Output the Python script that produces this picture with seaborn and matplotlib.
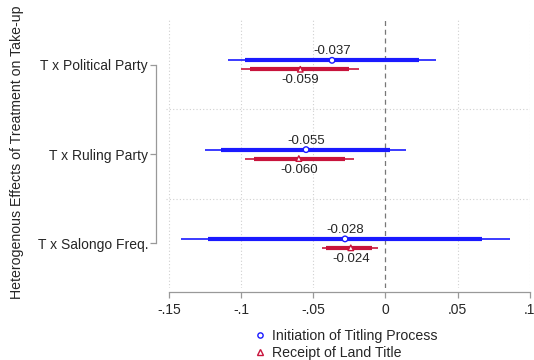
import matplotlib
matplotlib.use("Agg")
import matplotlib.pyplot as plt
from matplotlib.lines import Line2D
import seaborn as sns
import pandas as pd
import numpy as np

categories = ["T x Political Party", "T x Ruling Party", "T x Salongo Freq."]
series = ["Initiation of Titling Process", "Receipt of Land Title"]

init_coef = [-0.037, -0.055, -0.028]
init_lo95 = [-0.109, -0.125, -0.142]
init_hi95 = [0.035, 0.014, 0.086]
init_lo90 = [-0.097, -0.114, -0.123]
init_hi90 = [0.023, 0.003, 0.067]

title_coef = [-0.059, -0.060, -0.024]
title_lo95 = [-0.100, -0.097, -0.044]
title_hi95 = [-0.018, -0.022, -0.005]
title_lo90 = [-0.094, -0.091, -0.041]
title_hi90 = [-0.025, -0.028, -0.009]

xticks = [-0.15, -0.1, -0.05, 0, 0.05, 0.1]
xtick_labels = ["-.15", "-.1", "-.05", "0", ".05", ".1"]

sns.set_style("white")
plt.rcParams["font.family"] = ["Liberation Sans", "DejaVu Sans"]

blue = "#1a1aff"
red = "#c8143c"
colors = {series[0]: blue, series[1]: red}
markers = {series[0]: "o", series[1]: "^"}
offsets = {series[0]: -0.05, series[1]: 0.05}

rows = []
for i, c in enumerate(categories):
    rows.append(dict(cat=c, pos=i + 1, series=series[0], coef=init_coef[i],
                     lo95=init_lo95[i], hi95=init_hi95[i], lo90=init_lo90[i], hi90=init_hi90[i]))
    rows.append(dict(cat=c, pos=i + 1, series=series[1], coef=title_coef[i],
                     lo95=title_lo95[i], hi95=title_hi95[i], lo90=title_lo90[i], hi90=title_hi90[i]))
df = pd.DataFrame(rows)
df["y"] = df["pos"] + df["series"].map(offsets)

fig = plt.figure(figsize=(5.34, 3.6), dpi=100)
ax = fig.add_axes([0.311, 0.2, 0.681, 0.744])

# grid
for xt in xticks:
    if xt != 0:
        ax.axvline(xt, color="#d0d0d0", lw=0.8, ls=(0, (1, 2)), zorder=0)
for yy in [1.5, 2.5]:
    ax.axhline(yy, color="#d0d0d0", lw=0.8, ls=(0, (1, 2)), zorder=0)
ax.axvline(0, color="#777777", lw=0.9, ls=(0, (4, 3)), zorder=1)

for s in series:
    d = df[df["series"] == s]
    ax.hlines(d["y"], d["lo95"], d["hi95"], color=colors[s], lw=1.2, zorder=2)
    ax.hlines(d["y"], d["lo90"], d["hi90"], color=colors[s], lw=3.0, zorder=3)

sns.scatterplot(data=df, x="coef", y="y", hue="series", style="series",
                palette=colors, markers=markers, s=16,
                linewidth=1.0, legend=False, ax=ax, zorder=4)
coll = ax.collections[-1]
ec = [colors[s] for s in df["series"]]
coll.set_edgecolors(ec)
coll.set_facecolors("white")

for _, r in df.iterrows():
    if r["series"] == series[0]:
        ax.text(r["coef"], r["y"] - 0.1, f"{r['coef']:.3f}", ha="center", va="center", fontsize=9.5)
    else:
        ax.text(r["coef"], r["y"] + 0.123, f"{r['coef']:.3f}", ha="center", va="center", fontsize=9.5)

ax.set_xlim(-0.152, 0.1)
ax.set_ylim(3.5, 0.5)
ax.set_yticks([1, 2, 3])
ax.set_yticklabels(categories, fontsize=8.9)
ax.set_xticks(xticks)
ax.set_xticklabels(xtick_labels, fontsize=9.3)
ax.set_xlabel("")
ax.set_ylabel("Heterogenous Effects of Treatment on Take-up", fontsize=10.2)
ax.yaxis.set_label_coords(-0.392, 0.505)

for sp in ["top", "right"]:
    ax.spines[sp].set_visible(False)
ax.spines["left"].set_position(("outward", 7))
ax.spines["left"].set_bounds(1, 3)
ax.spines["bottom"].set_position(("outward", 3))
ax.spines["bottom"].set_bounds(-0.15, 0.1)
for sp in ["left", "bottom"]:
    ax.spines[sp].set_color("#999999")
    ax.spines[sp].set_linewidth(0.9)
ax.tick_params(axis="y", left=True, length=4.5, width=0.9, color="#999999", direction="out", pad=1.5)
ax.tick_params(axis="x", bottom=True, length=4.5, width=0.9, color="#999999", direction="out", pad=3)

handles = [
    Line2D([], [], marker="o", color=blue, markerfacecolor="white", markeredgecolor=blue,
           markersize=3.8, markeredgewidth=1.0, lw=0),
    Line2D([], [], marker="^", color=red, markerfacecolor="white", markeredgecolor=red,
           markersize=3.8, markeredgewidth=1.0, lw=0),
]
fig.legend(handles, series, loc="upper left", bbox_to_anchor=(0.465, 0.106),
           frameon=False, fontsize=10.2, handlelength=0.6, handletextpad=0.6,
           labelspacing=0.2, borderpad=0)

fig.savefig("out.png", dpi=100)
